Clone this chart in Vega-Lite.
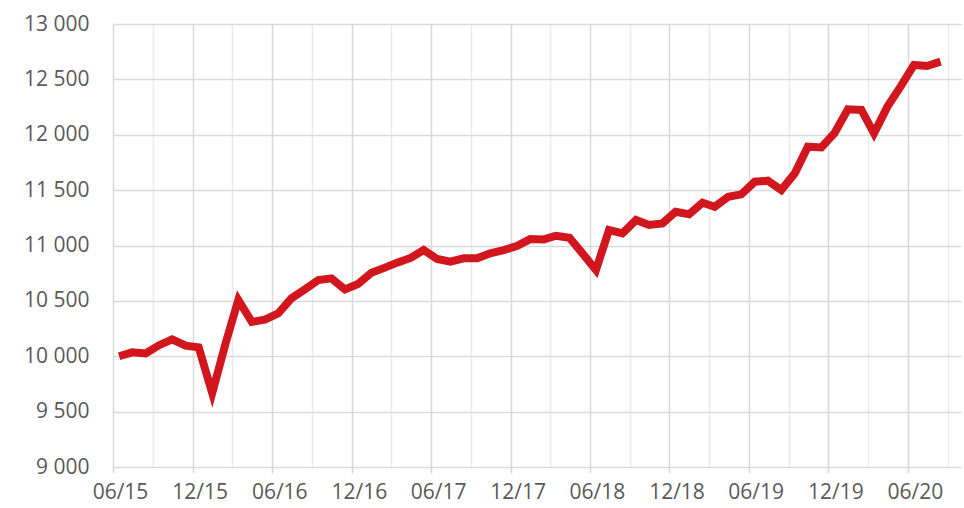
{
  "$schema": "https://vega.github.io/schema/vega-lite/v6.json",
  "width": 848,
  "height": 443,
  "autosize": {"type": "none"},
  "padding": {"left": 113, "top": 24, "right": 3, "bottom": 41},
  "background": "white",
  "config": {
    "view": {"stroke": null},
    "font": "Open Sans",
    "axis": {"labelFont": "Open Sans", "labelFontSize": 21, "labelColor": "#595959"}
  },
  "data": {
    "values": [
      {"date": "2015-06-15", "value": 10000},
      {"date": "2015-07-15", "value": 10035},
      {"date": "2015-08-15", "value": 10025},
      {"date": "2015-09-15", "value": 10100},
      {"date": "2015-10-15", "value": 10153},
      {"date": "2015-11-15", "value": 10095},
      {"date": "2015-12-15", "value": 10080},
      {"date": "2016-01-15", "value": 9668},
      {"date": "2016-02-15", "value": 10120},
      {"date": "2016-03-15", "value": 10508},
      {"date": "2016-04-15", "value": 10310},
      {"date": "2016-05-15", "value": 10330},
      {"date": "2016-06-15", "value": 10388},
      {"date": "2016-07-15", "value": 10523},
      {"date": "2016-08-15", "value": 10604},
      {"date": "2016-09-15", "value": 10688},
      {"date": "2016-10-15", "value": 10703},
      {"date": "2016-11-15", "value": 10604},
      {"date": "2016-12-15", "value": 10652},
      {"date": "2017-01-15", "value": 10754},
      {"date": "2017-02-15", "value": 10800},
      {"date": "2017-03-15", "value": 10845},
      {"date": "2017-04-15", "value": 10888},
      {"date": "2017-05-15", "value": 10959},
      {"date": "2017-06-15", "value": 10878},
      {"date": "2017-07-15", "value": 10854},
      {"date": "2017-08-15", "value": 10884},
      {"date": "2017-09-15", "value": 10884},
      {"date": "2017-10-15", "value": 10929},
      {"date": "2017-11-15", "value": 10959},
      {"date": "2017-12-15", "value": 10995},
      {"date": "2018-01-15", "value": 11058},
      {"date": "2018-02-15", "value": 11055},
      {"date": "2018-03-15", "value": 11088},
      {"date": "2018-04-15", "value": 11070},
      {"date": "2018-05-15", "value": 10929},
      {"date": "2018-06-15", "value": 10778},
      {"date": "2018-07-15", "value": 11140},
      {"date": "2018-08-15", "value": 11110},
      {"date": "2018-09-15", "value": 11230},
      {"date": "2018-10-15", "value": 11185},
      {"date": "2018-11-15", "value": 11200},
      {"date": "2018-12-15", "value": 11305},
      {"date": "2019-01-15", "value": 11282},
      {"date": "2019-02-15", "value": 11386},
      {"date": "2019-03-15", "value": 11350},
      {"date": "2019-04-15", "value": 11440},
      {"date": "2019-05-15", "value": 11462},
      {"date": "2019-06-15", "value": 11576},
      {"date": "2019-07-15", "value": 11585},
      {"date": "2019-08-15", "value": 11501},
      {"date": "2019-09-15", "value": 11652},
      {"date": "2019-10-15", "value": 11892},
      {"date": "2019-11-15", "value": 11886},
      {"date": "2019-12-15", "value": 12013},
      {"date": "2020-01-15", "value": 12230},
      {"date": "2020-02-15", "value": 12224},
      {"date": "2020-03-15", "value": 12013},
      {"date": "2020-04-15", "value": 12254},
      {"date": "2020-05-15", "value": 12434},
      {"date": "2020-06-15", "value": 12630},
      {"date": "2020-07-15", "value": 12621},
      {"date": "2020-08-15", "value": 12660}
    ]
  },
  "mark": {"type": "line", "color": "#d2161e", "strokeWidth": 8, "strokeJoin": "miter", "strokeCap": "butt", "clip": false},
  "encoding": {
    "x": {
      "field": "date",
      "type": "temporal",
      "scale": {"domain": [{"year": 2015, "month": 6, "date": 1}, {"year": 2020, "month": 10, "date": 1}]},
      "axis": {
        "title": null,
        "domain": false,
        "values": [
          {"year": 2015, "month": 6, "date": 1}, {"year": 2015, "month": 9, "date": 1},
          {"year": 2015, "month": 12, "date": 1}, {"year": 2016, "month": 3, "date": 1},
          {"year": 2016, "month": 6, "date": 1}, {"year": 2016, "month": 9, "date": 1},
          {"year": 2016, "month": 12, "date": 1}, {"year": 2017, "month": 3, "date": 1},
          {"year": 2017, "month": 6, "date": 1}, {"year": 2017, "month": 9, "date": 1},
          {"year": 2017, "month": 12, "date": 1}, {"year": 2018, "month": 3, "date": 1},
          {"year": 2018, "month": 6, "date": 1}, {"year": 2018, "month": 9, "date": 1},
          {"year": 2018, "month": 12, "date": 1}, {"year": 2019, "month": 3, "date": 1},
          {"year": 2019, "month": 6, "date": 1}, {"year": 2019, "month": 9, "date": 1},
          {"year": 2019, "month": 12, "date": 1}, {"year": 2020, "month": 3, "date": 1},
          {"year": 2020, "month": 6, "date": 1}, {"year": 2020, "month": 9, "date": 1}
        ],
        "labelExpr": "month(datum.value) % 6 == 5 ? timeFormat(datum.value, '%m/%y') : ''",
        "labelOffset": 7,
        "labelPadding": 8,
        "labelFlush": false,
        "labelOverlap": false,
        "tickSize": 6,
        "tickWidth": 1.5,
        "tickColor": {"condition": {"test": "month(datum.value) % 6 == 5", "value": "#d6d6d6"}, "value": "transparent"},
        "grid": true,
        "gridWidth": 1.5,
        "gridColor": {"condition": {"test": "month(datum.value) % 6 == 5", "value": "#d9d9d9"}, "value": "#ebebeb"}
      }
    },
    "y": {
      "field": "value",
      "type": "quantitative",
      "scale": {"domain": [9000, 13000], "nice": false, "zero": false},
      "axis": {
        "title": null,
        "domain": false,
        "ticks": false,
        "values": [9000, 9500, 10000, 10500, 11000, 11500, 12000, 12500, 13000],
        "labelExpr": "replace(format(datum.value, ','), ',', ' ')",
        "labelPadding": 24,
        "grid": true,
        "gridWidth": 1.5,
        "gridColor": "#d9d9d9"
      }
    }
  }
}
